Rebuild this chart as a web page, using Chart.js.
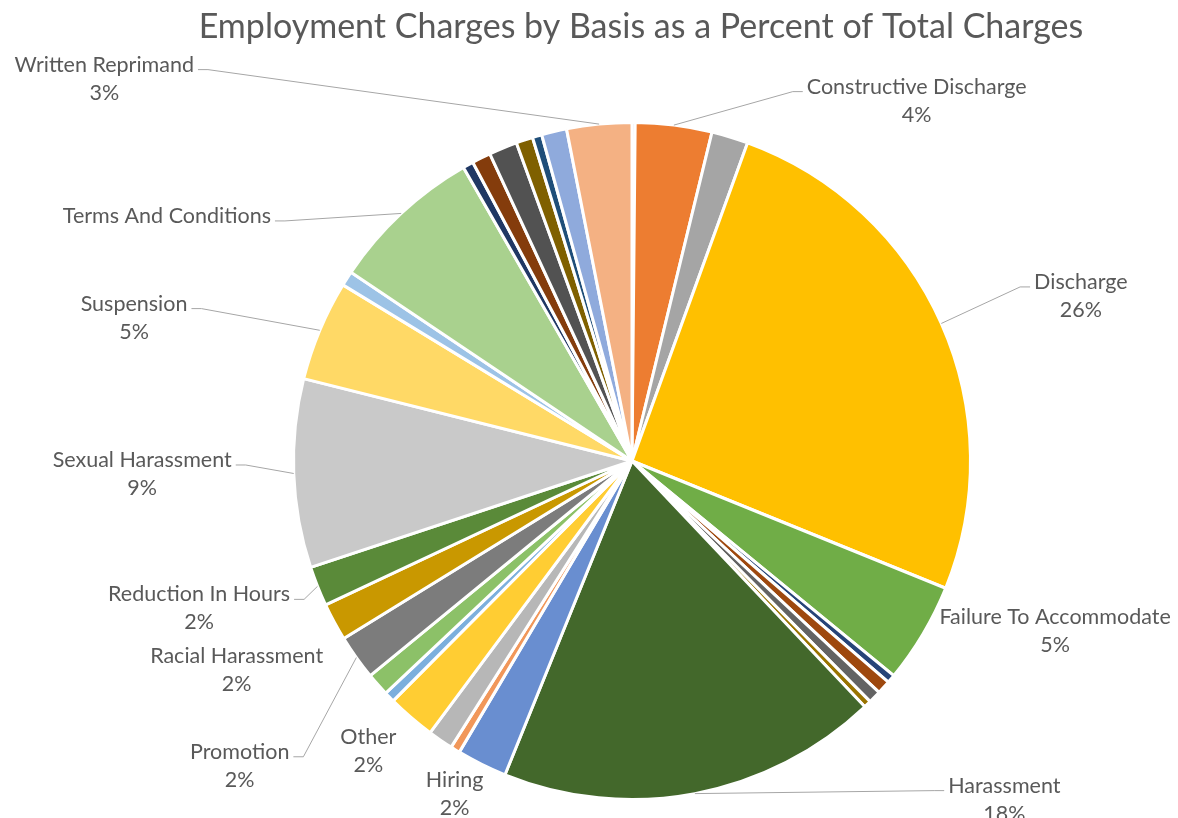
<!DOCTYPE html>
<html lang="en">
<head>
<meta charset="utf-8">
<title>Employment Charges by Basis</title>
<script src="https://cdn.jsdelivr.net/npm/chart.js@4.4.1/dist/chart.umd.min.js"></script>
<style>
  html, body { margin: 0; padding: 0; background: #ffffff; }
  #wrap { width: 1178px; height: 818px; position: relative; }
</style>
</head>
<body>
<div id="wrap"><canvas id="basisChart"></canvas></div>
<script>
// --- Data: charge bases, clockwise from 12 o'clock ---
const bases = [
    'Assignment', 'Constructive Discharge', 'Demotion', 'Discharge',
    'Failure To Accommodate', 'Flexible Schedule', 'Gender Identity', 'Genetic Information',
    'Hair Policy', 'Harassment', 'Hiring', 'Intimidation', 'Layoff', 'Other', 'Overtime',
    'Pay', 'Promotion', 'Racial Harassment', 'Reduction In Hours', 'Sexual Harassment',
    'Suspension', 'Tenure', 'Terms And Conditions', 'Training', 'Transfer',
    'Union Representation', 'Verbal Warning', 'Wages', 'Work Schedule', 'Written Reprimand'
];

// share of total charges, in percent
const shares = [
    0.15, 3.65, 1.75, 25.6,
    4.8, 0.4, 0.65, 0.6,
    0.35, 18.2, 2.4, 0.45, 1.2, 2.3, 0.5,
    1.1, 2.15, 1.8, 1.9, 9.0,
    4.8, 0.7, 7.3, 0.5, 0.9,
    1.35, 0.8, 0.45, 1.2, 3.1
];

const sliceColors = [
    '#4472C4', '#ED7D31', '#A5A5A5', '#FFC000',
    '#70AD47', '#264478', '#9E480E', '#636363',
    '#997300', '#43682B', '#698ED0', '#F1975A', '#B7B7B7', '#FFCD33', '#7CAFDD',
    '#8CC168', '#7C7C7C', '#C99800', '#5A8A39', '#C9C9C9',
    '#FFD966', '#9DC3E6', '#A9D18E', '#203864', '#843C0C',
    '#525252', '#7F6000', '#1F4E79', '#8FAADC', '#F4B183'
];

// Bases that get a data label: label centre relative to the pie centre in
// units of the pie radius, whether the percentage line is shown, and
// whether a leader line is drawn.
const labelSpots = {
    'Written Reprimand':      [-1.559, -1.171, true,  true],
    'Constructive Discharge': [ 0.841, -1.106, true,  true],
    'Discharge':              [ 1.326, -0.529, true,  true],
    'Failure To Accommodate': [ 1.250,  0.462, true,  false],
    'Harassment':             [ 1.100,  0.959, true,  true],
    'Hiring':                 [-0.524,  0.944, true,  false],
    'Other':                  [-0.779,  0.815, true,  false],
    'Promotion':              [-1.159,  0.859, true,  true],
    'Racial Harassment':      [-1.168,  0.576, true,  false],
    'Reduction In Hours':     [-1.279,  0.394, true,  true],
    'Sexual Harassment':      [-1.447, -0.003, true,  true],
    'Suspension':             [-1.471, -0.465, true,  true],
    'Terms And Conditions':   [-1.374, -0.724, false, true]
};

const chartTitle = 'Employment Charges by Basis as a Percent of Total Charges';

const FONT = 'Lato, "Open Sans", sans-serif';
const TEXT_COLOR = '#595959';

// --- Title + outside labels with leader lines ---
const pieLabels = {
    id: 'pieLabels',
    afterDraw(chart) {
        const ctx = chart.ctx;
        const meta = chart.getDatasetMeta(0);
        const data = chart.data.datasets[0].data;
        const total = data.reduce((a, b) => a + b, 0);

        ctx.save();
        // title
        ctx.fillStyle = TEXT_COLOR;
        ctx.font = '34px ' + FONT;
        ctx.textAlign = 'center';
        ctx.textBaseline = 'middle';
        ctx.fillText(chartTitle, 641, 27);

        ctx.font = '21.5px ' + FONT;
        const lineGap = 28;

        meta.data.forEach((arc, i) => {
            const name = chart.data.labels[i];
            const spot = labelSpots[name];
            if (!spot) return;

            const p = arc.getProps(['x', 'y', 'startAngle', 'endAngle', 'outerRadius'], true);
            const r = p.outerRadius;
            const lx = p.x + spot[0] * r;
            const ly = p.y + spot[1] * r;

            // leader line from the label edge to the middle of the slice's rim
            if (spot[3]) {
                const mid = (p.startAngle + p.endAngle) / 2;
                const ax = p.x + Math.cos(mid) * r;
                const ay = p.y + Math.sin(mid) * r;
                const w = ctx.measureText(name).width;
                const leftSide = lx < p.x;
                const sx = leftSide ? lx + w / 2 + 4 : lx - w / 2 - 4;
                const sy = ly + 5;
                const tx = sx + (leftSide ? 10 : -10);
                ctx.strokeStyle = '#A6A6A6';
                ctx.lineWidth = 1;
                ctx.beginPath();
                ctx.moveTo(sx, sy);
                ctx.lineTo(tx, sy);
                ctx.lineTo(ax, ay);
                ctx.stroke();
            }

            ctx.fillStyle = TEXT_COLOR;
            ctx.fillText(name, lx, ly);
            if (spot[2]) {
                const pct = Math.round(data[i] / total * 100) + '%';
                ctx.fillText(pct, lx, ly + lineGap);
            }
        });
        ctx.restore();
    }
};

new Chart(document.getElementById('basisChart'), {
    type: 'pie',
    data: {
        labels: bases,
        datasets: [{
            data: shares,
            backgroundColor: sliceColors,
            borderColor: '#ffffff',
            borderWidth: 3
        }]
    },
    options: {
        responsive: true,
        maintainAspectRatio: false,
        animation: false,
        layout: {
            padding: { top: 121, bottom: 17, left: 292, right: 206 }
        },
        plugins: {
            legend: { display: false },
            title: { display: false },
            tooltip: { enabled: false }
        }
    },
    plugins: [pieLabels]
});
</script>
</body>
</html>
